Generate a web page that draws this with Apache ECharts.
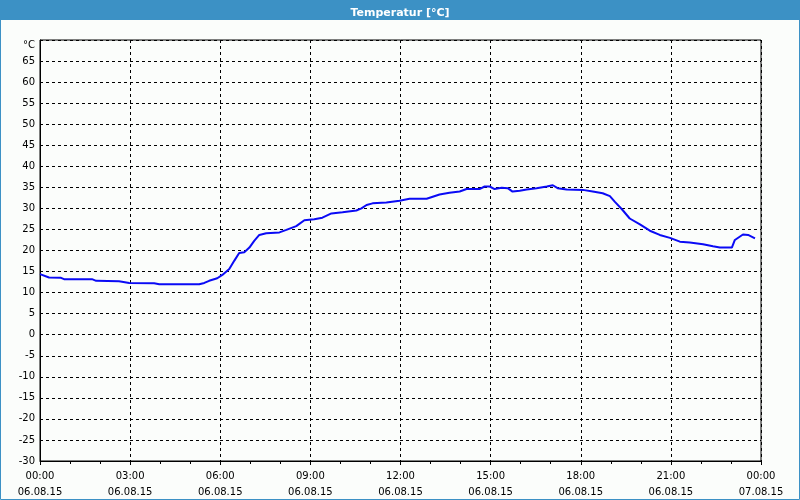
<!DOCTYPE html>
<html>
<head>
<meta charset="utf-8">
<script src="https://cdn.jsdelivr.net/npm/echarts@6/dist/echarts.min.js"></script>
<style>html,body{margin:0;padding:0;background:#fbfdfb}#c{width:800px;height:500px}</style>
</head>
<body>
<div id="c"></div>
<script>
var chartTitle = 'Temperatur [°C]';
var unitLabel = '°C';
var timeLabels = ['00:00','03:00','06:00','09:00','12:00','15:00','18:00','21:00','00:00'];
var dateLabels = ['06.08.15','06.08.15','06.08.15','06.08.15','06.08.15','06.08.15','06.08.15','06.08.15','07.08.15'];
var hours = [0.0,0.3,0.7,0.8,1.73,1.87,2.63,2.97,3.8,3.97,5.3,5.47,5.63,5.9,6.07,6.3,6.47,6.63,6.8,6.97,7.13,7.3,7.53,7.97,8.2,8.53,8.8,9.13,9.4,9.7,10.07,10.53,10.7,10.87,11.07,11.53,11.97,12.3,12.87,13.3,13.63,13.97,14.2,14.63,14.8,14.97,15.13,15.37,15.57,15.73,15.97,16.2,16.53,16.87,17.07,17.23,17.53,18.07,18.4,18.73,18.97,19.13,19.37,19.63,19.97,20.3,20.63,20.97,21.3,21.63,22.07,22.4,22.63,23.03,23.13,23.4,23.57,23.8];
var temps = [14.4,13.6,13.5,13.2,13.2,12.8,12.7,12.3,12.2,12.0,12.0,12.3,12.8,13.4,14.2,15.6,17.6,19.4,19.6,20.7,22.3,23.7,24.1,24.3,24.9,25.8,27.2,27.4,27.8,28.8,29.1,29.5,30.0,30.8,31.2,31.4,31.8,32.3,32.3,33.3,33.7,34.0,34.6,34.6,35.2,35.2,34.6,34.9,34.8,34.0,34.2,34.5,34.8,35.2,35.5,34.8,34.5,34.4,34.0,33.6,32.9,31.6,29.8,27.6,26.2,24.7,23.7,23.0,22.1,21.9,21.5,21.0,20.7,20.7,22.5,23.8,23.7,22.9];

var pts = hours.map(function(h, i){ return [h, temps[i]]; });
var FONT = 'DejaVu Sans';
var chart = echarts.init(document.getElementById('c'));
chart.setOption({
  backgroundColor: '#fbfdfb',
  animation: false,
  graphic: [
    {type:'rect', shape:{x:0,y:0,width:800,height:20}, style:{fill:'#3c91c5'}, z:0},
    {type:'rect', shape:{x:0.5,y:0.5,width:799,height:499}, style:{fill:null, stroke:'#3c91c5', lineWidth:1}, z:0}
  ],
  title: {
    text: chartTitle, left: 'center', top: 3,
    textStyle: {color:'#ffffff', fontFamily:FONT, fontWeight:'bold', fontSize:11}
  },
  grid: {left:40, top:40, right:39, bottom:39, show:true, borderColor:'#000', borderWidth:1, backgroundColor:'#fbfdfb'},
  xAxis: {
    type:'value', min:0, max:24, interval:3,
    axisLine:{show:true, onZero:false, lineStyle:{color:'#000', width:1}},
    axisTick:{show:true, length:4, lineStyle:{color:'#000'}},
    minorTick:{show:true, splitNumber:3, length:3, lineStyle:{color:'#000'}},
    splitLine:{show:true, lineStyle:{color:'#000', type:[3,3], width:1}},
    axisLabel:{
      showMinLabel:true, showMaxLabel:true, margin:7,
      color:'#000', fontFamily:FONT, fontSize:10, lineHeight:16,
      formatter:function(v, i){ var k = Math.round(v/3); return timeLabels[k] + '\n' + dateLabels[k]; }
    }
  },
  yAxis: {
    type:'value', min:-30, max:70, interval:5,
    axisLine:{show:true, onZero:false, lineStyle:{color:'#000', width:1}},
    axisTick:{show:false},
    splitLine:{show:true, lineStyle:{color:'#000', type:[3,3], width:1}},
    axisLabel:{
      margin:5, color:'#000', fontFamily:FONT, fontSize:10,
      formatter:function(v){ return v === 70 ? '{u|' + unitLabel + '}' : String(v); },
      rich:{u:{fontFamily:FONT, fontSize:10, color:'#000', padding:[10,0,0,0]}}
    }
  },
  series: [{
    type:'line', data:pts, showSymbol:false, smooth:false,
    lineStyle:{color:'#0a0af5', width:2},
    itemStyle:{color:'#0a0af5'}
  }]
});
</script>
</body>
</html>
